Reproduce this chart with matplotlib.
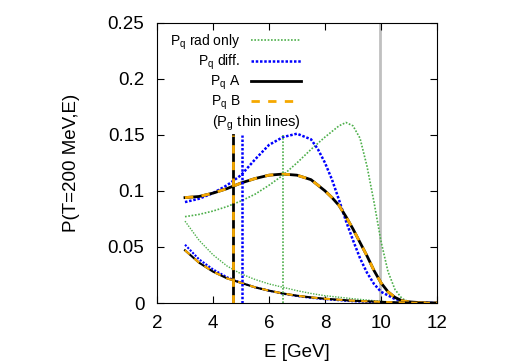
import matplotlib
matplotlib.use("Agg")
import matplotlib.pyplot as plt
import numpy as np

plt.rcParams['font.family'] = ['Liberation Sans', 'DejaVu Sans']

# quark curves (thick)
E_a = [3, 3.5, 4, 4.5, 5, 5.5, 6, 6.5, 7, 7.5, 8, 8.25, 8.5, 8.75, 9, 9.25, 9.5, 9.75, 10, 10.25, 10.5, 10.75, 11, 11.5, 12]
P_a = [0.094, 0.095, 0.098, 0.102, 0.107, 0.111, 0.114, 0.115, 0.114, 0.110, 0.100, 0.094, 0.087, 0.077, 0.066,
       0.054, 0.042, 0.029, 0.018, 0.010, 0.005, 0.002, 0.001, 0.0002, 0.0]

E_diff = [3, 3.5, 4, 4.5, 5, 5.5, 6, 6.5, 7, 7.5, 7.75, 8, 8.25, 8.5, 8.75, 9, 9.25, 9.5, 9.75, 10, 10.5, 11, 11.5, 12]
P_diff = [0.090, 0.093, 0.098, 0.105, 0.114, 0.128, 0.141, 0.148, 0.151, 0.146, 0.137, 0.125, 0.110, 0.092, 0.073,
          0.056, 0.040, 0.027, 0.017, 0.010, 0.0035, 0.0008, 0.0001, 0.0]

E_rad = [3, 3.5, 4, 4.5, 5, 5.5, 6, 6.5, 7, 7.5, 8, 8.5, 8.75, 9, 9.25, 9.5, 9.75, 10, 10.25, 10.5, 10.75, 11, 11.5, 12]
P_rad = [0.077, 0.079, 0.082, 0.086, 0.091, 0.097, 0.105, 0.114, 0.125, 0.137, 0.148, 0.158, 0.161, 0.158, 0.147,
         0.122, 0.090, 0.055, 0.028, 0.012, 0.004, 0.001, 0.0001, 0.0]

# gluon curves (thin)
E_g = [3, 3.5, 4, 4.5, 5, 5.5, 6, 6.5, 7, 7.5, 8, 9, 10, 10.5, 11, 12]
Pg_a = [0.047, 0.036, 0.028, 0.022, 0.018, 0.014, 0.011, 0.0085, 0.0065, 0.005, 0.0038, 0.002, 0.001, 0.0006, 0.0003, 0.0]
Pg_diff = [0.052, 0.039, 0.030, 0.023, 0.018, 0.014, 0.011, 0.0083, 0.0062, 0.0046, 0.0034, 0.0015, 0.0005, 0.0002, 0.0001, 0.0]
Pg_rad = [0.073, 0.056, 0.043, 0.033, 0.026, 0.021, 0.017, 0.014, 0.011, 0.0085, 0.0065, 0.0038, 0.0015, 0.0007, 0.0002, 0.0]

# mean energies (vertical lines)
mean_a = 4.7
mean_diff = 5.05
mean_rad = 6.5
mean_top = 0.15
E_init = 9.97

green = '#4daf4a'
blue = '#0000ff'
orange = '#f5a800'
grey = '#c0c0c0'

fig = plt.figure(figsize=(5.18, 3.63), dpi=100)
fig.subplots_adjust(left=157/518, right=437/518, top=1-22.7/363, bottom=1-303/363)
ax = fig.add_subplot(111)

ax.axvline(E_init, color=grey, lw=2, zorder=1)

ax.plot(E_rad, P_rad, color=green, lw=1.2, ls=(0, (1, 1)), label=r'P$_\mathregular{q}$ rad only')
ax.plot(E_diff, P_diff, color=blue, lw=1.8, ls=(0, (1, 0.7)), label=r'P$_\mathregular{q}$ diff.')
ax.plot(E_a, P_a, color='black', lw=2, label=r'P$_\mathregular{q}$ A')
ax.plot(E_a, P_a, color=orange, lw=2, ls=(0, (3, 3)), label=r'P$_\mathregular{q}$ B')

ax.plot(E_g, Pg_rad, color=green, lw=1, ls=(0, (1, 1)))
ax.plot(E_g, Pg_diff, color=blue, lw=1.5, ls=(0, (1, 0.7)))
ax.plot(E_g, Pg_a, color='black', lw=1.5)
ax.plot(E_g, Pg_a, color=orange, lw=1.5, ls=(0, (3, 3)))

ax.plot([mean_rad, mean_rad], [0, mean_top], color=green, lw=1.2, ls=(0, (1, 1)))
ax.plot([mean_diff, mean_diff], [0, mean_top], color=blue, lw=1.8, ls=(0, (1, 0.7)))
ax.plot([mean_a, mean_a], [0, mean_top], color='black', lw=2)
ax.plot([mean_a, mean_a], [0, mean_top], color=orange, lw=2, ls=(0, (3, 3)))

ax.set_xlim(2, 12)
ax.set_ylim(0, 0.25)
ax.set_xticks([2, 4, 6, 8, 10, 12])
ax.set_yticks([0, 0.05, 0.1, 0.15, 0.2, 0.25])
ax.set_yticklabels(['0', '0.05', '0.1', '0.15', '0.2', '0.25'])
ax.tick_params(direction='in', top=True, right=True, labelsize=13.5, length=5, pad=9)
ax.set_xlabel('E [GeV]', fontsize=13.5, labelpad=8)
ax.set_ylabel('P(T=200 MeV,E)', fontsize=13.5, labelpad=20)

leg = ax.legend(loc='upper right', markerfirst=False, frameon=False, fontsize=10,
                handlelength=3.6, handletextpad=0.8, labelspacing=0.1,
                bbox_to_anchor=(0.56, 1.01))
ax.text(0.355, 0.64, r'(P$_\mathregular{g}$ thin lines)', transform=ax.transAxes,
        fontsize=10.5, ha='center', va='center')

fig.savefig('out.png', dpi=100)
